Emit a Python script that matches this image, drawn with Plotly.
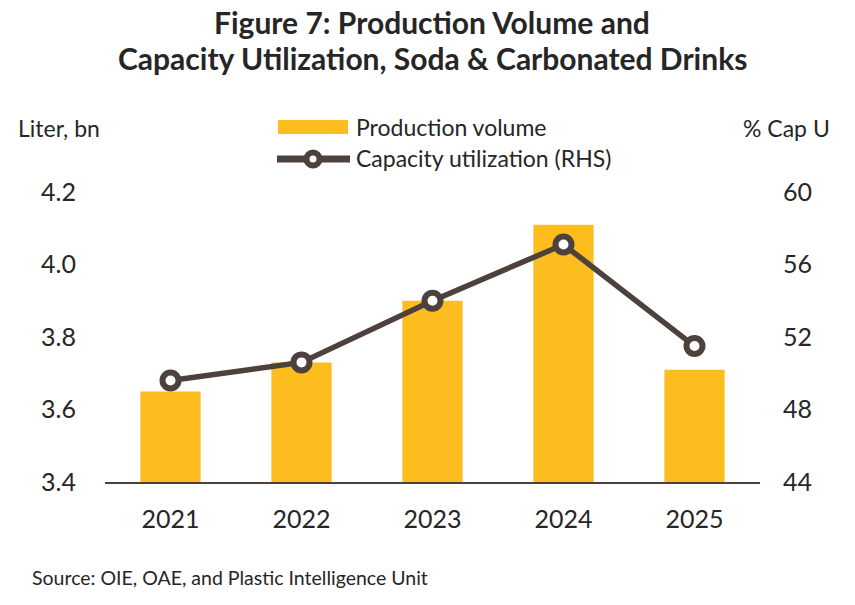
import plotly.graph_objects as go

years = ["2021", "2022", "2023", "2024", "2025"]
production = [3.65, 3.73, 3.90, 4.11, 3.71]
cap_util = [49.6, 50.6, 54.0, 57.1, 51.5]
left_ticks = [3.4, 3.6, 3.8, 4.0, 4.2]
right_ticks = [44, 48, 52, 56, 60]

BAR = "#FDBD1F"
LINE = "#4D413D"
TXT = "#262626"
FONT = "Lato"

# plot area in pixels: x 105..760, y 192..482
def px_x(p):
    return (p - 105) / 655.0

def px_y(p):
    return (482 - p) / 290.0

fig = go.Figure()
fig.add_trace(go.Bar(
    x=years, y=production, name="Production volume",
    marker=dict(color=BAR, line=dict(width=0)), width=0.46, yaxis="y", showlegend=False))
fig.add_trace(go.Scatter(
    x=years, y=cap_util, name="Capacity utilization (RHS)", yaxis="y2",
    mode="lines+markers", showlegend=False,
    line=dict(color=LINE, width=5.5),
    marker=dict(symbol="circle", size=16, color="white", line=dict(color=LINE, width=6))))

fig.update_layout(
    width=855, height=605,
    margin=dict(l=105, r=95, t=192, b=123),
    paper_bgcolor="white", plot_bgcolor="white",
    font=dict(family=FONT, color=TXT),
    xaxis=dict(type="category", showgrid=False, showline=True, linecolor=LINE, linewidth=2,
               ticks="", tickfont=dict(size=25, color=TXT), ticklabelstandoff=14),
    yaxis=dict(range=[3.4, 4.2], tickvals=left_ticks, ticktext=[f"{v:.1f}" for v in left_ticks],
               showgrid=False, zeroline=False, showline=False,
               tickfont=dict(size=25, color=TXT), ticklabelstandoff=28),
    yaxis2=dict(range=[44, 60], tickvals=right_ticks, overlaying="y", side="right",
                showgrid=False, zeroline=False, showline=False,
                tickfont=dict(size=25, color=TXT), ticklabelstandoff=22),
    showlegend=False,
)

# Title
fig.add_annotation(text="<b>Figure 7: Production Volume and</b>", xref="paper", yref="paper",
                   x=px_x(432), y=px_y(22), xanchor="center", yanchor="middle", showarrow=False,
                   font=dict(size=30, color=TXT))
fig.add_annotation(text="<b>Capacity Utilization, Soda & Carbonated Drinks</b>", xref="paper", yref="paper",
                   x=px_x(432), y=px_y(58), xanchor="center", yanchor="middle", showarrow=False,
                   font=dict(size=30, color=TXT))

# Axis titles
fig.add_annotation(text="Liter, bn", xref="paper", yref="paper", x=px_x(16), y=px_y(128),
                   xanchor="left", yanchor="middle", showarrow=False, font=dict(size=23, color=TXT))
fig.add_annotation(text="% Cap U", xref="paper", yref="paper", x=px_x(832), y=px_y(128),
                   xanchor="right", yanchor="middle", showarrow=False, font=dict(size=23, color=TXT))

# Legend (manual)
fig.add_shape(type="rect", xref="paper", yref="paper", x0=px_x(278), x1=px_x(348),
              y0=px_y(134), y1=px_y(120), fillcolor=BAR, line=dict(width=0))
fig.add_annotation(text="Production volume", xref="paper", yref="paper", x=px_x(354), y=px_y(127),
                   xanchor="left", yanchor="middle", showarrow=False, font=dict(size=23, color=TXT))
fig.add_shape(type="line", xref="paper", yref="paper", x0=px_x(277), x1=px_x(350),
              y0=px_y(159), y1=px_y(159), line=dict(color=LINE, width=7))
fig.add_shape(type="circle", xref="paper", yref="paper", xsizemode="pixel", ysizemode="pixel",
              xanchor=px_x(313), yanchor=px_y(159), x0=-6.5, x1=6.5, y0=-6.5, y1=6.5,
              fillcolor="white", line=dict(color=LINE, width=6))
fig.add_annotation(text="Capacity utilization (RHS)", xref="paper", yref="paper", x=px_x(354), y=px_y(158),
                   xanchor="left", yanchor="middle", showarrow=False, font=dict(size=23, color=TXT))

# Source
fig.add_annotation(text="Source: OIE, OAE, and Plastic Intelligence Unit", xref="paper", yref="paper",
                   x=px_x(30), y=px_y(577), xanchor="left", yanchor="middle", showarrow=False,
                   font=dict(size=19.5, color=TXT))

fig.write_html("out.html")
